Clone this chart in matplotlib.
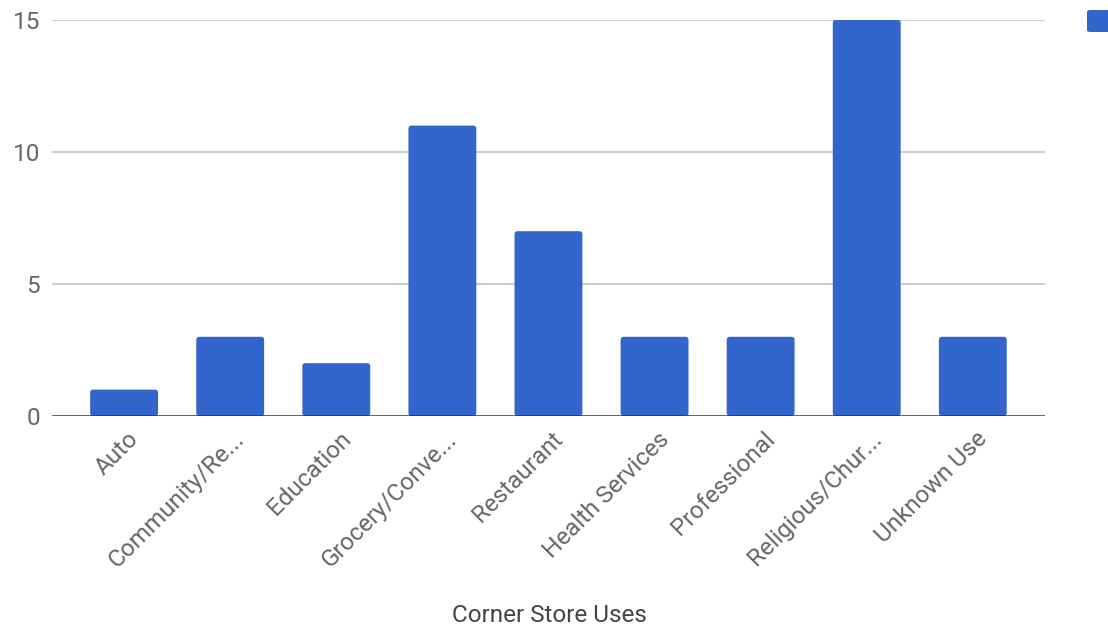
import numpy as np
import matplotlib.pyplot as plt
from matplotlib.patches import FancyBboxPatch
from matplotlib.transforms import ScaledTranslation

plt.rcParams['font.family'] = ['Roboto', 'DejaVu Sans']

uses = ["Auto", "Community/Re...", "Education", "Grocery/Conve...", "Restaurant",
        "Health Services", "Professional", "Religious/Chur...", "Unknown Use"]
counts = [1, 3, 2, 11, 7, 3, 3, 15, 3]
yticks = [0, 5, 10, 15]

blue = "#3366cc"
fs = 17.5

fig = plt.figure(figsize=(11.08, 6.30), dpi=100)
ax = fig.add_axes([0.0469, 0.3397, 0.8962, 0.6286])

x = np.arange(len(uses))
bars = ax.bar(x, counts, width=0.64, color=blue, zorder=3)

# swap the plain rectangles for ones with slightly rounded corners
aspect = (ax.get_position().height * 630 / 15) ** -1 / (ax.get_position().width * 1108 / 9.36) ** -1
for b in bars:
    r = FancyBboxPatch((b.get_x(), b.get_y()), b.get_width(), b.get_height(),
                       boxstyle="round,pad=0,rounding_size=0.03",
                       mutation_aspect=aspect, fc=blue, ec="none", zorder=3)
    ax.add_patch(r)
    b.set_visible(False)

ax.set_xlim(-0.68, len(uses) - 1 + 0.68)
ax.set_ylim(0, 15)
ax.set_yticks(yticks)
ax.set_yticklabels([str(v) for v in yticks], color="#666666", fontsize=fs)
ax.tick_params(axis="y", length=0, pad=8.5)

for v in yticks[1:]:
    ax.axhline(v, color="#cccccc", lw=1.4, zorder=1)
ax.axhline(0, color="#333333", lw=1.8, zorder=4)

ax.set_xticks(x)
ax.set_xticklabels(uses, rotation=45, ha="right", va="top", rotation_mode="anchor",
                   color="#666666", fontsize=fs)
ax.tick_params(axis="x", length=0, pad=4)
shift = ScaledTranslation(3 / 100, -6 / 100, fig.dpi_scale_trans)
for lbl in ax.get_xticklabels():
    lbl.set_transform(lbl.get_transform() + shift)

for s in ax.spines.values():
    s.set_visible(False)

fig.text(0.4955, 1 - 616 / 630, "Corner Store Uses", ha="center", va="center",
         fontsize=fs, color="#444444")

# legend swatch at the top right edge
fig.patches.append(FancyBboxPatch((1087 / 1108, 1 - 32 / 630), 0.03, 22 / 630,
                                  boxstyle="round,pad=0,rounding_size=0.003",
                                  transform=fig.transFigure, fc=blue, ec="none",
                                  figure=fig))

fig.savefig("out.png", dpi=100)
